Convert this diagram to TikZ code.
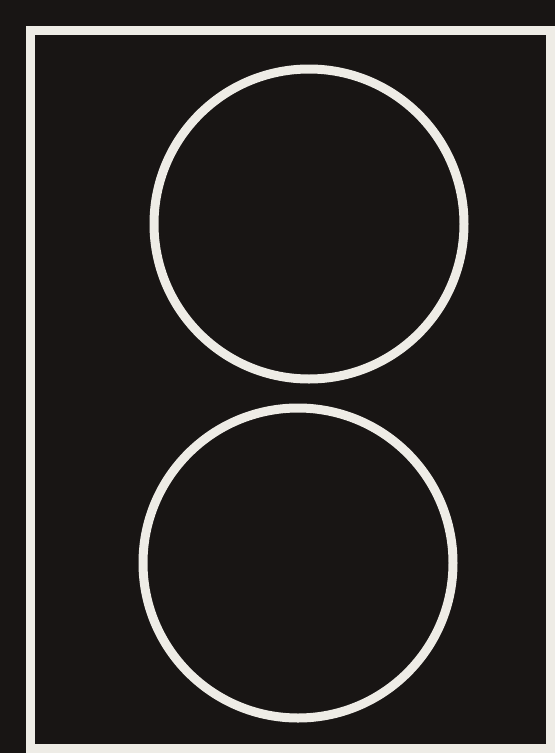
\documentclass[tikz,border=0pt]{standalone}
\begin{document}
\begin{tikzpicture}[x=1pt,y=-1pt,
  chalk/.style={draw={rgb,255:red,238;green,236;blue,230},line width=9pt}]
\definecolor{bg}{RGB}{24,21,20}
\fill[bg] (0,0) rectangle (555,753);
\useasboundingbox (0,0) rectangle (555,753);
\coordinate (tl) at (30,30);
\coordinate (br) at (550,748);
\draw[chalk] (tl) rectangle (br);
\node[chalk,circle,minimum size=310pt,inner sep=0pt] (c1) at (309,224) {};
\node[chalk,circle,minimum size=310pt,inner sep=0pt] (c2) at (298,563) {};
\end{tikzpicture}
\end{document}
